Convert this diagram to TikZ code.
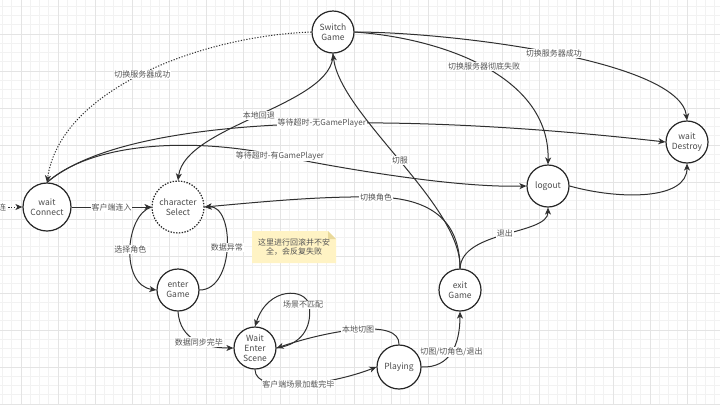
\documentclass[tikz,border=0pt]{standalone}
\usepackage{fontspec}
\setmainfont{Noto Sans CJK SC}
\usetikzlibrary{arrows.meta}

\definecolor{gridminor}{HTML}{F2F2F2}
\definecolor{gridmajor}{HTML}{E4E4E4}
\definecolor{linecol}{HTML}{303030}
\definecolor{textcol}{HTML}{555555}
\definecolor{notefill}{HTML}{FFF3C4}
\definecolor{notefold}{HTML}{E9D99C}

\begin{document}
\begin{tikzpicture}[
      x=1pt, y=-1pt,
      % Node styles
      state/.style={
          circle, draw=black!85, line width=1.2pt, minimum size=42pt, inner sep=0pt,
          fill=white, align=center, text=black!70,
          font=\fontsize{8.5}{10}\selectfont,
        },
      select state/.style={
          state, minimum size=52pt, dash pattern=on 1.4pt off 1.4pt,
        },
      % Edge styles
      trans/.style={
          draw=linecol, line width=1pt, -{Stealth[length=7pt,width=6pt,inset=2pt]},
        },
      hint/.style={
          trans, dash pattern=on 1.2pt off 1.6pt,
        },
      lbl/.style={
          font=\fontsize{8}{9.5}\selectfont, text=textcol, fill=white, inner sep=0.8pt,
        },
    ]
    % --- Background and grid ---
    \fill[white] (0,0) rectangle (720,405);
    \useasboundingbox (0,0) rectangle (720,405);
    \foreach \i in {0,...,77} {
        \draw[gridminor, line width=0.7pt] ({2.5+9.25*\i},0) -- ({2.5+9.25*\i},405);
      }
    \foreach \i in {0,...,43} {
        \draw[gridminor, line width=0.7pt] (0,{6.25+9.25*\i}) -- (720,{6.25+9.25*\i});
      }
    \foreach \i in {0,...,18} {
        \draw[gridmajor, line width=0.8pt] ({21+37*\i},0) -- ({21+37*\i},405);
      }
    \foreach \i in {0,...,10} {
        \draw[gridmajor, line width=0.8pt] (0,{34+37*\i}) -- (720,{34+37*\i});
      }

    % --- Note ---
    \fill[notefill] (252,231) -- (328,231) -- (336,239) -- (336,263) -- (252,263) -- cycle;
    \fill[notefold] (328,231) -- (336,239) -- (328,239) -- cycle;
    \node[lbl, fill=none, align=center] (note) at (294,247) {这里进行回滚并不安\\全，会反复失败};

    % --- States ---
    \node[state] (SG) at (333,32) {Switch\\Game};
    \node[state] (WD) at (687,142) {wait\\Destroy};
    \node[state] (LO) at (548,186) {logout};
    \node[state, minimum size=48pt] (WC) at (47,207) {wait\\Connect};
    \node[select state] (CS) at (178,207) {character\\Select};
    \node[state] (EG) at (178,290) {enter\\Game};
    \node[state] (WES) at (255,348) {Wait\\Enter\\Scene};
    \node[state, minimum size=44pt] (PL) at (399,367) {Playing};
    \node[state] (XG) at (460,290) {exit\\Game};
    \coordinate (outside) at (-70,207);

    % --- Transitions ---
    \draw[hint] (outside) -- node[lbl, pos=0.65] {断线重连} (WC.west);
    \draw[hint] (SG.west) .. controls (200,36) and (60,90) .. node[lbl] {切换服务器成功} (WC.north);
    \draw[trans] (SG.east) .. controls (450,32) and (680,60) .. node[lbl] {切换服务器成功} (WD.north);
    \draw[trans] (SG.east) .. controls (440,38) and (550,75) .. node[lbl] {切换服务器彻底失败} (LO.north);
    \draw[trans] (SG.south) .. controls (335,105) and (185,125) .. node[lbl] {本地回退} (CS.north);
    \draw[trans] (WC.north) .. controls (130,112) and (400,112) .. node[lbl, pos=0.55] {等待超时-无GamePlayer} (WD.west);
    \draw[trans] (WC.north) .. controls (95,140) and (200,138) .. (280,156) node[lbl] {等待超时-有GamePlayer}
    .. controls (330,166) and (450,188) .. (LO.west);
    \draw[trans] (LO.east) .. controls (620,200) and (687,200) .. (WD.south);
    \draw[trans] (WC.east) -- node[lbl] {客户端连入} (CS.west);
    \draw[trans] (CS.west) .. controls (125,215) and (120,285) .. node[lbl] {选择角色} (EG.west);
    \draw[trans] (EG.east) .. controls (235,290) and (235,205) .. node[lbl] {数据异常} (CS.east);
    \draw[trans] (EG.south) .. controls (180,340) and (205,348) .. node[lbl, pos=0.55] {数据同步完毕} (WES.west);
    \draw[trans] (WES.east) .. controls (306,344) and (312,322) .. (309,305) node[lbl, xshift=-6pt] {场景不匹配}
    .. controls (306,288) and (268,286) .. (WES.north);
    \draw[trans] (PL.north) .. controls (400,318) and (330,330) .. node[lbl] {本地切图} (WES.east);
    \draw[trans] (WES.south) .. controls (255,395) and (330,385) .. node[lbl] {客户端场景加载完毕} (PL.west);
    \draw[trans] (PL.east) .. controls (450,368) and (460,345) .. node[lbl] {切图/切角色/退出} (XG.south);
    \draw[trans] (XG.north) .. controls (462,230) and (548,235) .. node[lbl] {退出} (LO.south);
    \draw[trans] (XG.north) .. controls (460,220) and (430,198) .. (376,197) node[lbl] {切换角色}
    .. controls (320,196) and (260,202) .. (CS.east);
    \draw[trans] (XG.north) .. controls (462,205) and (340,115) .. node[lbl] {切服} (SG.south);

  \end{tikzpicture}
\end{document}
